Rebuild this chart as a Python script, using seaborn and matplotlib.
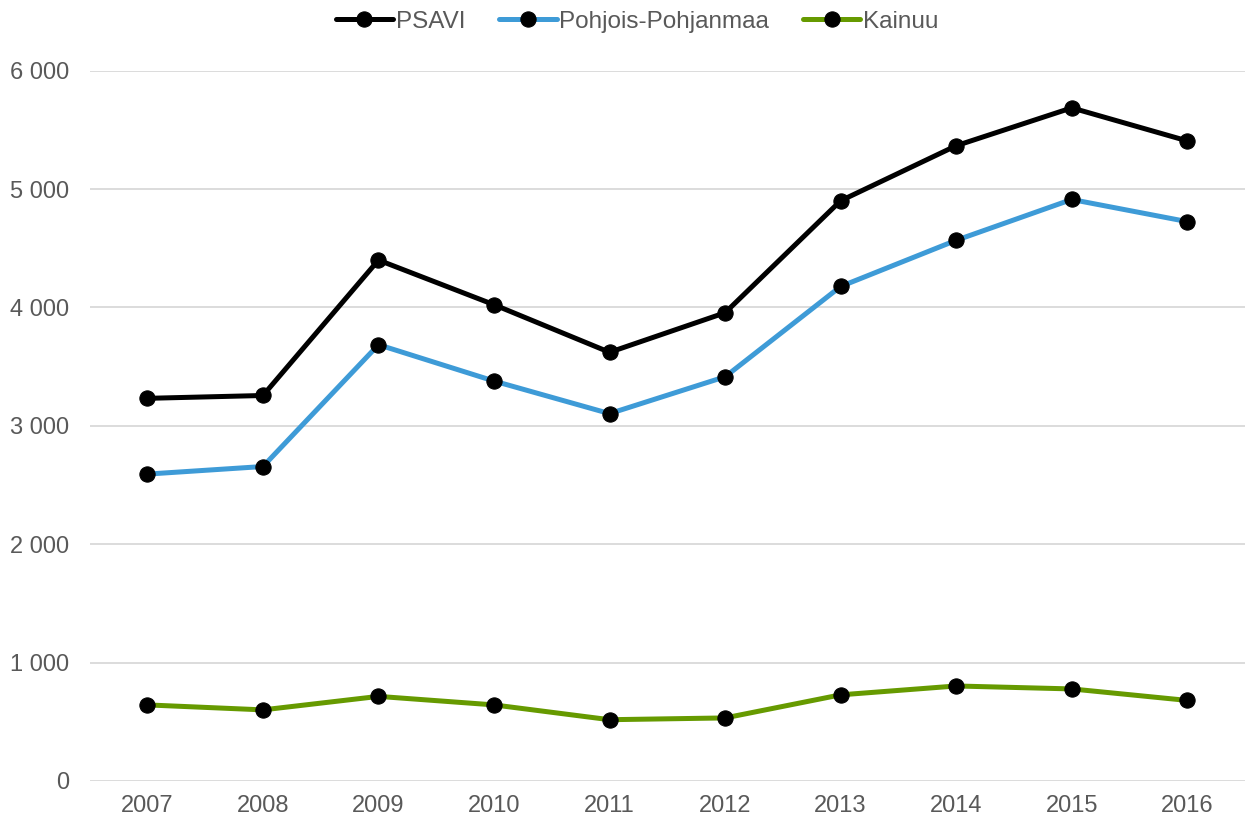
import pandas as pd
import numpy as np
import seaborn as sns
import matplotlib.pyplot as plt

years = ['2007', '2008', '2009', '2010', '2011', '2012', '2013', '2014', '2015', '2016']
psavi = [3232, 3256, 4400, 4023, 3621, 3955, 4901, 5366, 5686, 5407]
pohjois = [2592, 2656, 3685, 3378, 3103, 3414, 4177, 4567, 4912, 4725]
kainuu = [642, 600, 714, 642, 517, 532, 727, 802, 777, 680]

series = ['PSAVI', 'Pohjois-Pohjanmaa', 'Kainuu']
colors = ['#000000', '#3E9BD7', '#669A00']

df = pd.concat([
    pd.DataFrame({'Vuosi': years, 'Arvo': vals, 'Alue': name})
    for name, vals in zip(series, [psavi, pohjois, kainuu])
])

sns.set_style('white')
plt.rcParams['font.family'] = ['Liberation Sans', 'DejaVu Sans']

fig = plt.figure(figsize=(12.45, 8.22), dpi=100)
ax = fig.add_axes([0.072, 0.05, 0.928, 0.864])

sns.lineplot(data=df, x='Vuosi', y='Arvo', hue='Alue', hue_order=series,
             palette=colors, linewidth=3.6, marker='o', markersize=11,
             markerfacecolor='black', markeredgecolor='black', sort=False, ax=ax)

ax.set_xlim(-0.5, 9.5)
ax.set_ylim(0, 6000)
ax.set_yticks(range(0, 6001, 1000))
ax.set_yticklabels([f'{v:,}'.replace(',', ' ') for v in range(0, 6001, 1000)])
ax.yaxis.grid(True, color='#D9D9D9', linewidth=1.3)
ax.set_axisbelow(True)
for s in ax.spines.values():
    s.set_visible(False)
ax.tick_params(axis='both', length=0, labelsize=17, labelcolor='#595959')
ax.tick_params(axis='x', pad=10)
ax.tick_params(axis='y', pad=15)
ax.set_xlabel('')
ax.set_ylabel('')

handles, labels = ax.get_legend_handles_labels()
leg = ax.legend(handles, labels, loc='upper center', bbox_to_anchor=(0.474, 1.115),
                ncol=3, frameon=False, fontsize=17.5, handlelength=2.35,
                handletextpad=0.12, columnspacing=1.4)
for t in leg.get_texts():
    t.set_color('#595959')

fig.savefig('out.png', dpi=100)
